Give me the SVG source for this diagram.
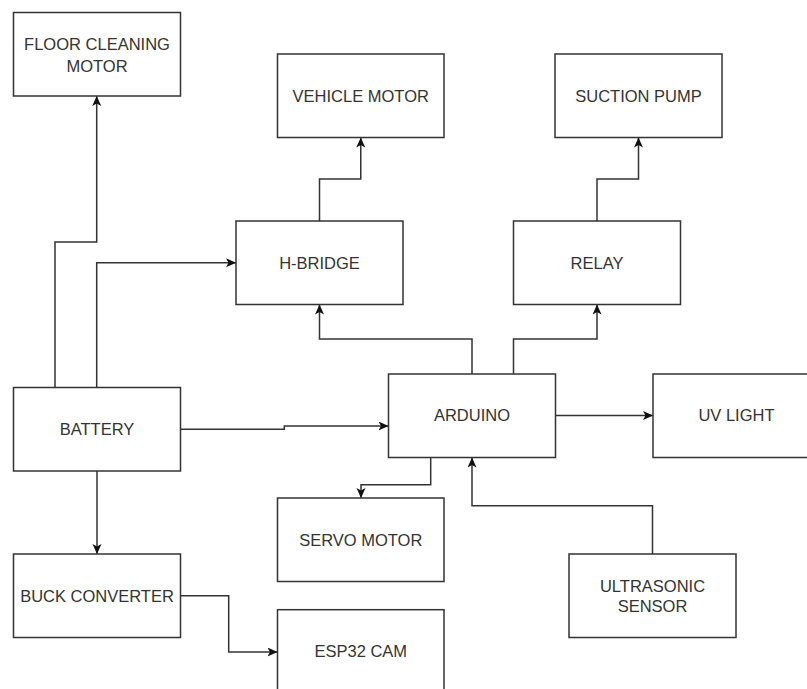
<svg xmlns="http://www.w3.org/2000/svg" width="807" height="689" viewBox="0 0 807 689">
<defs>
<style>
.box{fill:#ffffff;stroke:#333333;stroke-width:1.5}
.lbl{font-family:"Liberation Sans",Arial,sans-serif;font-size:16.5px;fill:#333333;text-anchor:middle}
.edge{fill:none;stroke:#333333;stroke-width:1.5;marker-end:url(#arr)}
</style>
<marker id="arr" markerUnits="userSpaceOnUse" markerWidth="12" markerHeight="10" refX="10" refY="4.5" orient="auto">
<path d="M0,0 L10,4.5 L0,9 L2.5,4.5 Z" fill="#111111"/>
</marker>
</defs>
<rect width="807" height="689" fill="#ffffff"/>
<g id="connectors">
<path class="edge" d="M55 387.5 V242 H96.7 V96"/>
<path class="edge" d="M96.7 387.5 V262.7 H236"/>
<path class="edge" d="M319.5 221 V179 H360.75 V137.5"/>
<path class="edge" d="M597 221 V179 H638.5 V137.5"/>
<path class="edge" d="M472 374 V339 H319.5 V304.5"/>
<path class="edge" d="M513.5 374 V339 H597 V304.5"/>
<path class="edge" d="M180.5 429.3 H284.3 V426 H388.5"/>
<path class="edge" d="M555.5 415.5 H653"/>
<path class="edge" d="M430.7 457.5 V484.7 H361 V498"/>
<path class="edge" d="M652.5 554 V505.7 H472 V457.5"/>
<path class="edge" d="M97 471 V554"/>
<path class="edge" d="M180.5 595.7 H228.7 V652 H277.5"/>
</g>
<g id="floor-cleaning-motor">
<rect class="box" x="13.5" y="12.5" width="167" height="83.5"/>
<text class="lbl" x="97" y="50">FLOOR CLEANING</text>
<text class="lbl" x="97" y="71.7">MOTOR</text>
</g>
<g id="vehicle-motor">
<rect class="box" x="277.5" y="54" width="166.5" height="83.5"/>
<text class="lbl" x="360.75" y="101.7">VEHICLE MOTOR</text>
</g>
<g id="suction-pump">
<rect class="box" x="555" y="54" width="167" height="83.5"/>
<text class="lbl" x="638.5" y="101.7">SUCTION PUMP</text>
</g>
<g id="h-bridge">
<rect class="box" x="236" y="221" width="167" height="83.5"/>
<text class="lbl" x="319.5" y="268.7">H-BRIDGE</text>
</g>
<g id="relay">
<rect class="box" x="513.5" y="221" width="167" height="83.5"/>
<text class="lbl" x="597" y="268.7">RELAY</text>
</g>
<g id="battery">
<rect class="box" x="13.5" y="387.5" width="167" height="83.5"/>
<text class="lbl" x="97" y="435">BATTERY</text>
</g>
<g id="arduino">
<rect class="box" x="388.5" y="374" width="167" height="83.5"/>
<text class="lbl" x="472" y="421.3">ARDUINO</text>
</g>
<g id="uv-light">
<rect class="box" x="653" y="374" width="167" height="83.5"/>
<text class="lbl" x="736.5" y="421.3">UV LIGHT</text>
</g>
<g id="servo-motor">
<rect class="box" x="277.5" y="498" width="166.5" height="83.5"/>
<text class="lbl" x="360.75" y="545.8">SERVO MOTOR</text>
</g>
<g id="ultrasonic-sensor">
<rect class="box" x="569" y="554" width="167" height="83.5"/>
<text class="lbl" x="652.5" y="591.7">ULTRASONIC</text>
<text class="lbl" x="652.5" y="612.3">SENSOR</text>
</g>
<g id="buck-converter">
<rect class="box" x="13.5" y="554" width="167" height="83.5"/>
<text class="lbl" x="97" y="601.7">BUCK CONVERTER</text>
</g>
<g id="esp32-cam">
<rect class="box" x="277.5" y="609.7" width="166.5" height="83.5"/>
<text class="lbl" x="360.75" y="657">ESP32 CAM</text>
</g>
</svg>
